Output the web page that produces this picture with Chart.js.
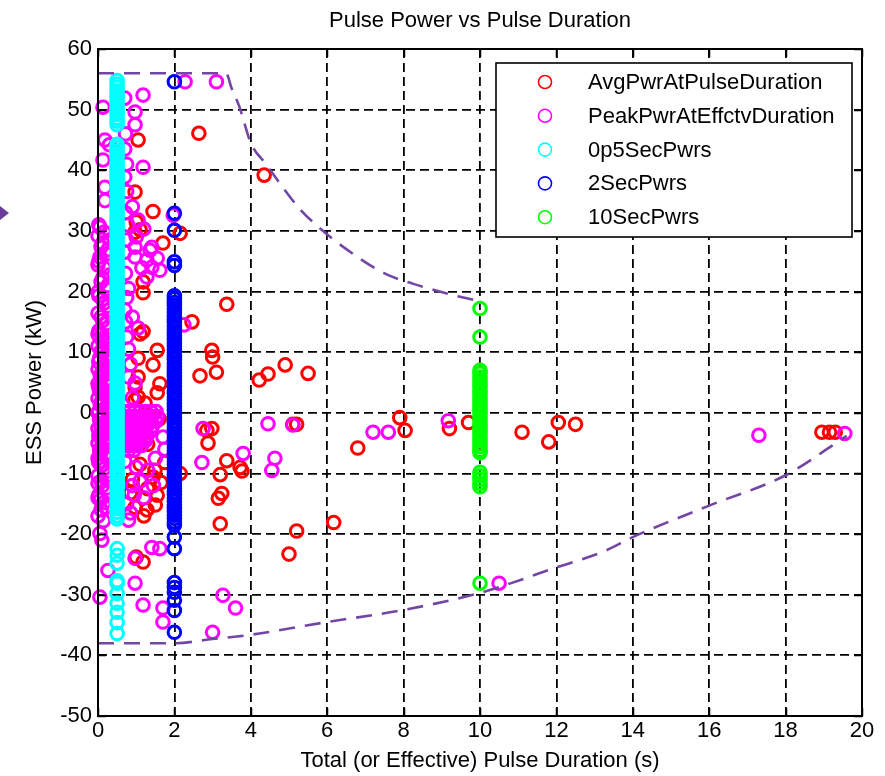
<!DOCTYPE html>
<html>
<head>
<meta charset="utf-8">
<title>Pulse Power vs Pulse Duration</title>
<script src="https://cdn.jsdelivr.net/npm/chart.js@4.4.1/dist/chart.umd.min.js"></script>
<style>
    html, body { margin: 0; padding: 0; background: #fff; }
    #wrap { width: 885px; height: 776px; }
</style>
</head>
<body>
<div id="wrap"><canvas id="pulseChart" width="885" height="776"></canvas></div>
<script>
// ==========================================
// PULSE POWER vs PULSE DURATION (scatter)
// ==========================================

// --- DATA ---

// AvgPwrAtPulseDuration (red)
const avgX = [2.64, 4.35, 1.05, 0.97, 1.44, 1.0, 0.97, 1.1, 2.15, 1.7, 1.18, 1.18, 3.37, 2.46, 1.18, 1.1,
    1.55, 1.05, 1.44, 2.98, 3.0, 3.1, 2.67, 4.22, 4.45, 4.9, 5.5, 1.05, 0.97, 1.55, 1.05, 1.23, 1.62, 0.97,
    2.85, 2.98, 2.88, 3.37, 3.2, 3.72, 3.77, 5.1, 5.2, 6.8, 3.15, 3.2, 5.2, 6.17, 5.0, 7.9, 8.04, 9.2, 9.7,
    11.1, 11.8, 12.05, 12.5, 18.95, 19.15, 19.3, 1.44, 1.55, 1.28, 0.97, 2.15, 1.49, 1.3, 1.18, 1.0, 0.05,
    0.97, 1.1, 0.9, 3.24, 1.6, 1.3, 1.65, 1.2, 1.5, 0.85, 1.75];
const avgY = [46.1, 39.2, 45.0, 36.4, 33.2, 31.5, 29.8, 30.2, 29.6, 28.0, 21.6, 19.8, 17.9, 15.0, 13.4, 13.0,
    10.3, 9.0, 7.9, 10.3, 9.2, 6.7, 6.1, 5.4, 6.4, 7.9, 6.5, 5.9, 4.2, 3.3, 2.6, 1.6, 4.8, 2.1,
    -2.9, -2.6, -5.0, -7.9, -10.2, -9.0, -9.6, -1.9, -1.9, -5.8, -14.1, -18.3, -19.5, -18.1, -23.3, -0.8, -2.9, -2.6, -1.6,
    -3.2, -4.8, -1.6, -1.9, -3.2, -3.2, -3.2, -10.6, -13.6, -16.0, -15.6, -10.0, -9.5, -12.5, -24.6, -23.8, -6.7,
    -4.9, -8.5, -11.0, -13.3, -1.0, -5.2, -11.5, -17.0, -15.2, -13.2, -8.2];

// PeakPwrAtEffctvDuration (magenta) as [duration, power]
const peakPts = [
    [2.28, 54.6], [3.1, 54.6], [1.18, 52.4], [0.7, 51.9], [0.97, 49.6], [0.97, 47.5], [0.13, 50.4], [0.18, 45.0],
    [0.3, 44.2], [1.18, 40.5], [0.13, 41.7], [0.7, 43.5], [0.75, 41.0], [0.18, 37.2], [0.7, 38.9], [0.9, 34.0],
    [0.18, 35.0], [0.05, 30.6], [1.97, 32.6], [1.05, 31.8], [0.97, 27.3], [1.41, 27.3], [0.05, 25.7], [0.97, 25.7],
    [1.28, 25.2], [1.55, 25.5], [1.15, 23.9], [1.41, 24.0], [1.28, 22.4], [1.36, 26.8], [1.62, 23.5], [0.9, 15.8],
    [1.05, 14.0], [0.7, 17.0], [0.8, 5.9], [0.97, 4.9], [2.25, 14.5], [0.8, 20.5], [0.75, 28.5], [0.8, 10.5],
    [0.85, 8.0], [0.75, 12.5], [0.9, 2.5], [1.0, 29.0], [1.2, 30.3],
    [0.72, 46.0], [0.75, 36.5], [0.72, 33.0], [0.78, 31.0], [0.7, 26.5], [0.72, 23.0], [0.75, 19.0], [0.72, 15.0],
    // band along the power axis
    [0.02, 31.0], [0.16, 29.8], [0.30, 28.5], [0.08, 27.4], [0.22, 26.2], [0.02, 25.0], [0.16, 23.9], [0.30, 22.7],
    [0.08, 21.6], [0.22, 20.4], [0.02, 19.3], [0.16, 18.1], [0.30, 17.0], [0.08, 15.8], [0.22, 14.7], [0.02, 13.5],
    [0.16, 12.4], [0.30, 11.3], [0.08, 10.2], [0.22, 9.3], [0.02, 8.4], [0.16, 7.5], [0.30, 6.6], [0.08, 5.8],
    [0.22, 5.0], [0.02, 4.2], [0.16, 3.4], [0.30, 2.6], [0.08, 1.8], [0.22, 1.0], [0.02, 0.2], [0.16, -0.6],
    [0.30, -1.4], [0.08, -2.2], [0.22, -3.0], [0.02, -3.8], [0.16, -4.6], [0.30, -5.5], [0.08, -6.4], [0.22, -7.3],
    [0.02, -8.2], [0.16, -9.2], [0.30, -10.2], [0.08, -11.3], [0.22, -12.4], [0.02, -13.6], [0.16, -14.8], [0.08, -16.0],
    [0.12, 11.8], [0.26, 10.6], [0.04, 9.0], [0.18, 7.9], [0.32, 6.9], [0.06, 6.1], [0.20, 5.3], [0.34, 4.5],
    [0.04, 3.7], [0.18, 2.9], [0.32, 2.1], [0.06, 1.3], [0.20, 0.5], [0.34, -0.3], [0.04, -1.1], [0.18, -1.9],
    [0.32, -2.7], [0.06, -3.5], [0.20, -4.3], [0.34, -5.1], [0.04, -6.0], [0.18, -7.0], [0.10, -8.0],
    [0.0, 29.2], [0.12, 28.0], [0.26, 26.9], [0.0, 24.4], [0.12, 22.2], [0.26, 21.0], [0.0, 19.9], [0.12, 18.7],
    [0.26, 17.6], [0.0, 16.4], [0.12, 15.2], [0.26, 14.0], [0.0, 12.9], [0.10, 12.9], [0.28, 12.0], [0.0, 11.0],
    [0.14, 10.0], [0.28, 9.0], [0.0, 7.2], [0.10, 6.6], [0.26, 5.6], [0.0, 4.8], [0.12, 4.0], [0.26, 3.2],
    [0.0, 2.4], [0.12, 1.6], [0.26, 0.8], [0.0, 0.0], [0.12, -0.9], [0.26, -1.7], [0.0, -2.6], [0.12, -3.4],
    [0.26, -4.2], [0.0, -5.0], [0.12, -5.8], [0.26, -6.7], [0.0, -7.5], [0.12, -8.6], [0.26, -9.6], [0.0, -10.4],
    [0.12, -12.0], [0.26, -13.1], [0.06, -14.4], [0.2, -15.6], [0.0, -17.0], [0.14, -17.8],
    // block just right of the 0.5 s column
    [0.68, 0.2], [0.82, 0.2], [0.96, 0.2], [1.1, 0.2], [1.24, 0.2], [1.38, 0.2], [1.52, 0.2],
    [0.72, -0.6], [0.86, -0.6], [1.0, -0.6], [1.14, -0.6], [1.28, -0.6], [1.42, -0.6], [1.56, -0.6],
    [0.68, -1.4], [0.82, -1.4], [0.96, -1.4], [1.1, -1.4], [1.24, -1.4], [1.38, -1.4], [1.52, -1.4],
    [0.72, -2.2], [0.86, -2.2], [1.0, -2.2], [1.14, -2.2], [1.28, -2.2], [1.42, -2.2],
    [0.68, -3.0], [0.82, -3.0], [0.96, -3.0], [1.1, -3.0], [1.24, -3.0], [1.38, -3.0],
    [0.72, -3.8], [0.86, -3.8], [1.0, -3.8], [1.14, -3.8], [1.28, -3.8],
    [0.68, -4.6], [0.82, -4.6], [0.96, -4.6], [1.1, -4.6], [1.24, -4.6],
    [0.72, -5.4], [0.86, -5.4], [1.0, -5.4], [1.14, -5.4], [0.8, -6.2], [0.94, -6.2],
    // lower / scattered
    [0.05, -19.9], [0.1, -21.0], [0.26, -26.0], [0.05, -30.4], [0.97, -28.1], [1.18, -31.7], [1.7, -32.2], [1.7, -34.5],
    [3.0, -36.2], [3.27, -30.1], [3.6, -32.2], [1.41, -22.2], [1.62, -22.4], [0.97, -24.0], [0.8, -17.7], [2.72, -8.2],
    [3.8, -6.7], [4.55, -9.5], [4.63, -7.5], [2.75, -2.6], [4.45, -1.8], [5.1, -2.0], [7.2, -3.2], [7.6, -3.2],
    [9.17, -1.3], [10.5, -28.1], [17.3, -3.7], [19.55, -3.4], [0.0, -11.6], [0.0, -14.0], [0.9, -12.0], [1.0, -9.0],
    [1.2, -14.0], [0.75, -15.0], [1.1, -11.3], [0.95, -13.5], [1.3, -9.5], [0.7, -8.0], [1.5, -7.5], [0.85, -16.5],
    [1.45, -12.0], [1.75, -6.0], [1.7, -4.0]
];

// 0p5SecPwrs (cyan), all at 0.5 s
const halfSecDuration = 0.5;
const halfSecPwrs = [54.8, 54.2, 53.7, 53.1, 52.5, 52.0, 51.4, 50.9, 50.3, 49.7, 49.2, 48.6, 48.1, 47.5,
    44.3, 43.8, 43.2, 42.7, 42.1, 41.5, 41.0, 40.4, 39.9, 39.3, 38.8, 38.2, 37.6, 37.1, 36.5, 36.0, 35.4, 34.9,
    34.3, 33.7, 33.2, 32.6, 32.1, 31.5, 31.0, 30.4, 29.8, 29.3, 28.7, 28.2, 27.6, 27.1, 26.5, 25.9, 25.4, 24.8,
    24.3, 23.7, 23.2, 22.6, 22.0, 21.5, 20.9, 20.4, 19.8, 19.3, 18.7, 18.1, 17.6, 17.0, 16.5, 15.9, 15.4, 14.8,
    14.2, 13.7, 13.1, 12.6, 12.0, 11.5, 10.9, 10.3, 9.8, 9.2, 8.7, 8.1, 7.6, 7.0, 6.4, 5.9, 5.3, 4.8, 4.2, 3.7,
    3.1, 2.5, 2.0, 1.4, 0.9, 0.3, -0.2, -0.8, -1.4, -1.9, -2.5, -3.0, -3.6, -4.1, -4.7, -5.3, -5.8, -6.4, -6.9,
    -7.5, -8.0, -8.6, -9.2, -9.7, -10.3, -10.8, -11.4, -11.9, -12.5, -13.1, -13.6, -14.2, -14.7, -15.3, -15.8,
    -16.4, -17.0, -17.5, -22.4, -23.5, -24.8, -27.7, -28.1, -29.8, -31.4, -32.9, -34.6, -36.4];

// 2SecPwrs (blue), all at 2 s
const twoSecDuration = 2;
const twoSecPwrs = [54.6, 32.9, 30.1, 24.9, 24.3,
    19.3, 18.8, 18.2, 17.7, 17.1, 16.6, 16.0, 15.4, 14.9, 14.3, 13.8, 13.2, 12.7, 12.1, 11.5, 11.0, 10.4, 9.9,
    9.3, 8.8, 8.2, 7.6, 7.1, 6.5, 6.0, 5.4, 4.9, 4.3, 3.7, 3.2, 2.6, 2.1, 1.5, 1.0, 0.4, -0.2, -0.7, -1.3, -1.8,
    -2.4, -2.9, -3.5, -4.1, -4.6, -5.2, -5.7, -6.3, -6.8, -7.4, -8.0, -8.5, -9.1, -9.6, -10.2, -10.7, -11.3,
    -11.9, -12.4, -13.0, -13.5, -14.1, -14.6, -15.2, -15.8, -16.3, -16.9, -17.4, -18.0, -18.5,
    -20.5, -22.4, -28.0, -28.8, -29.6, -30.9, -32.6, -36.2];

// 10SecPwrs (green), all at 10 s
const tenSecDuration = 10;
const tenSecPwrs = [17.2, 12.5, 7.0, 6.5, 5.9, 5.4, 4.8, 4.3, 3.7, 3.2, 2.6, 2.1, 1.5, 1.0, 0.4, -0.1, -0.7,
    -1.2, -1.8, -2.3, -2.9, -3.4, -4.0, -4.5, -5.1, -5.6, -6.2, -6.6, -9.8, -10.4, -11.0, -11.6, -12.2, -28.1];

// dashed envelope curves
const upperEnvX = [0, 3.35, 3.5, 3.7, 4.0, 4.4, 4.8, 5.3, 5.8, 6.5, 7.5, 8.5, 9.3, 10.0];
const upperEnvY = [56, 56, 53.5, 50.5, 44.5, 41, 37.5, 33.5, 30.5, 27, 23, 20.8, 19.4, 18.4];
const lowerEnvX = [0, 2.0, 3.0, 4.0, 6.0, 8.0, 10.0, 12.0, 13.3, 14.0, 16.0, 18.0, 19.2, 19.6];
const lowerEnvY = [-38, -38, -37.3, -36.6, -34.5, -32.5, -29.7, -25.5, -22.7, -20.5, -15.3, -10.3, -5.5, -3.8];

// axis ranges
const xRange = [0, 20];
const xStep = 2;
const yRange = [-50, 60];
const yStep = 10;

// --- HELPERS ---

const FONT = '"Liberation Sans", Arial, sans-serif';

function pairs(xs, ys) {
    return xs.map((x, i) => ({ x: x, y: ys[i] }));
}

function column(duration, pwrs) {
    return pwrs.map(p => ({ x: duration, y: p }));
}

function markerSet(label, points, color, order) {
    return {
        label: label,
        data: points,
        borderColor: color,
        backgroundColor: 'rgba(0,0,0,0)',
        pointBorderColor: color,
        pointBackgroundColor: 'rgba(0,0,0,0)',
        pointRadius: 6.3,
        pointBorderWidth: 3,
        showLine: false,
        clip: false,
        order: order
    };
}

function envelopeSet(xs, ys) {
    return {
        label: 'envelope',
        data: pairs(xs, ys),
        showLine: true,
        borderColor: '#7446a4',
        borderWidth: 2.6,
        borderDash: [16, 10],
        pointRadius: 0,
        cubicInterpolationMode: 'monotone',
        fill: false,
        order: 1
    };
}

// --- PLUGINS: axes box, inward ticks, boxed legend, arrow mark ---

const frameBox = {
    id: 'frameBox',
    afterDatasetsDraw(chart) {
        const { ctx, chartArea: a, scales } = chart;
        ctx.save();
        ctx.strokeStyle = '#000';
        ctx.setLineDash([]);
        ctx.lineWidth = 1.5;
        ctx.beginPath();
        scales.x.ticks.forEach(t => {
            const px = Math.round(scales.x.getPixelForValue(t.value)) + 0.5;
            ctx.moveTo(px, a.bottom); ctx.lineTo(px, a.bottom - 8);
            ctx.moveTo(px, a.top); ctx.lineTo(px, a.top + 8);
        });
        scales.y.ticks.forEach(t => {
            const py = Math.round(scales.y.getPixelForValue(t.value)) + 0.5;
            ctx.moveTo(a.left, py); ctx.lineTo(a.left + 8, py);
            ctx.moveTo(a.right, py); ctx.lineTo(a.right - 8, py);
        });
        ctx.stroke();
        ctx.lineWidth = 2;
        ctx.strokeRect(a.left, a.top, a.right - a.left, a.bottom - a.top);
        ctx.restore();
    }
};

const boxLegend = {
    id: 'boxLegend',
    afterDraw(chart) {
        const ctx = chart.ctx;
        const items = chart.data.datasets.slice(0, 5);
        const left = 496, top = 63, right = 852, bottom = 237;
        ctx.save();
        ctx.fillStyle = '#fff';
        ctx.fillRect(left, top, right - left, bottom - top);
        ctx.strokeStyle = '#000';
        ctx.lineWidth = 1.6;
        ctx.setLineDash([]);
        ctx.strokeRect(left, top, right - left, bottom - top);
        ctx.font = '22px ' + FONT;
        ctx.textBaseline = 'middle';
        ctx.textAlign = 'left';
        items.forEach((ds, i) => {
            const y = 82 + i * 33.8;
            ctx.beginPath();
            ctx.arc(545, y, 6.5, 0, Math.PI * 2);
            ctx.strokeStyle = ds.borderColor;
            ctx.lineWidth = 1.6;
            ctx.stroke();
            ctx.fillStyle = '#000';
            ctx.fillText(ds.label, 588, y + 1);
        });
        // small purple arrow mark at the left edge
        ctx.fillStyle = '#6a3d9a';
        ctx.beginPath();
        ctx.moveTo(0, 206);
        ctx.lineTo(9, 213);
        ctx.lineTo(0, 220);
        ctx.closePath();
        ctx.fill();
        ctx.restore();
    }
};

// --- CHART ---

function renderChart() {
    const ctx = document.getElementById('pulseChart');

    new Chart(ctx, {
        type: 'scatter',
        data: {
            datasets: [
                markerSet('AvgPwrAtPulseDuration', pairs(avgX, avgY), '#ff0000', 6),
                markerSet('PeakPwrAtEffctvDuration', peakPts.map(p => ({ x: p[0], y: p[1] })), '#ff00ff', 5),
                markerSet('0p5SecPwrs', column(halfSecDuration, halfSecPwrs), '#00ffff', 4),
                markerSet('2SecPwrs', column(twoSecDuration, twoSecPwrs), '#0000ff', 3),
                markerSet('10SecPwrs', column(tenSecDuration, tenSecPwrs), '#00ff00', 2),
                envelopeSet(upperEnvX, upperEnvY),
                envelopeSet(lowerEnvX, lowerEnvY)
            ]
        },
        options: {
            responsive: false,
            animation: false,
            events: [],
            layout: { padding: { left: 18, right: 23, top: 0, bottom: 0 } },
            plugins: {
                legend: { display: false },
                tooltip: { enabled: false },
                title: {
                    display: true,
                    text: 'Pulse Power vs Pulse Duration',
                    color: '#000',
                    fullSize: false,
                    font: { family: FONT, size: 22, weight: 'normal' },
                    padding: { top: 8, bottom: 14.6 }
                }
            },
            scales: {
                x: {
                    type: 'linear',
                    min: xRange[0],
                    max: xRange[1],
                    ticks: {
                        stepSize: xStep,
                        color: '#000',
                        padding: 2,
                        font: { family: FONT, size: 22 }
                    },
                    grid: { color: '#000', lineWidth: 1.8, drawTicks: false },
                    border: { display: false, dash: [9, 5] },
                    title: {
                        display: true,
                        text: 'Total (or Effective) Pulse Duration (s)',
                        color: '#000',
                        font: { family: FONT, size: 22 },
                        padding: { top: 4, bottom: 2 }
                    },
                    afterFit: s => { s.height = 60; }
                },
                y: {
                    type: 'linear',
                    min: yRange[0],
                    max: yRange[1],
                    ticks: {
                        stepSize: yStep,
                        color: '#000',
                        padding: 6,
                        font: { family: FONT, size: 22 }
                    },
                    grid: { color: '#000', lineWidth: 1.8, drawTicks: false },
                    border: { display: false, dash: [9, 5] },
                    title: {
                        display: true,
                        text: 'ESS Power (kW)',
                        color: '#000',
                        font: { family: FONT, size: 22 },
                        padding: { top: 4, bottom: 4 }
                    },
                    afterFit: s => { s.width = 80; }
                }
            }
        },
        plugins: [frameBox, boxLegend]
    });
}

document.addEventListener('DOMContentLoaded', renderChart);
</script>
</body>
</html>
